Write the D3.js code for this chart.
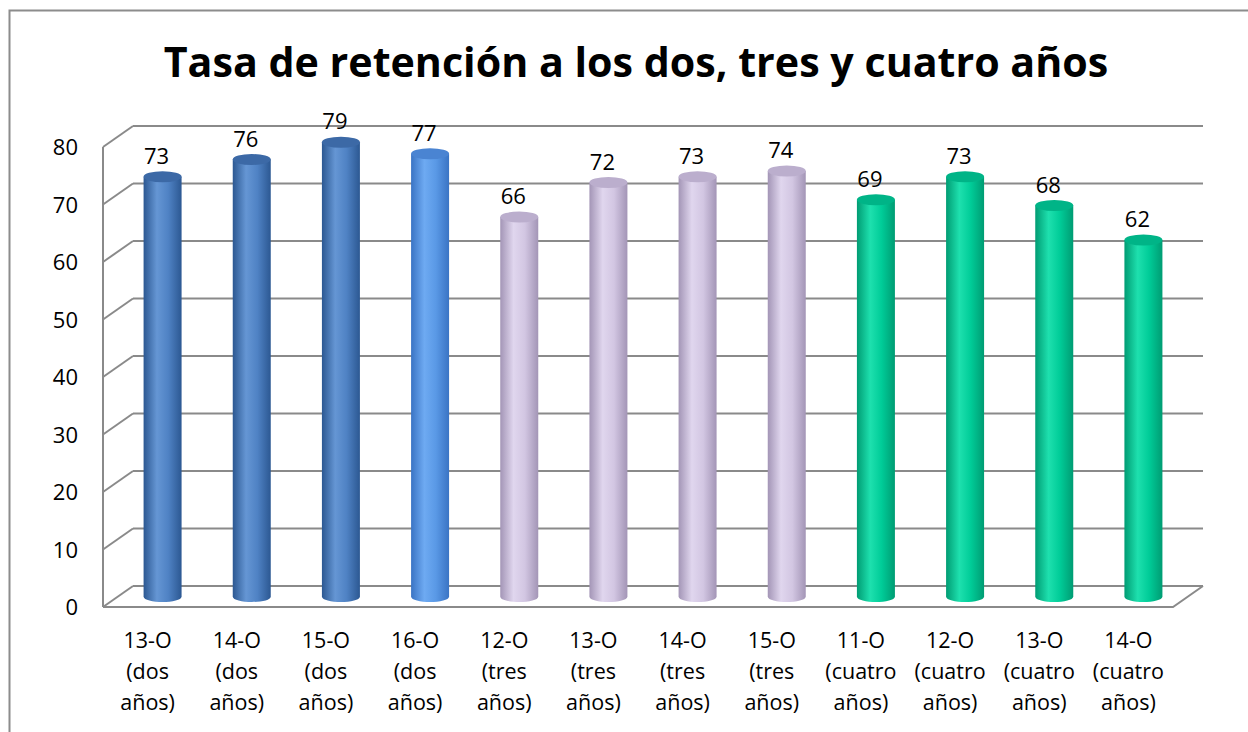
<!DOCTYPE html>
<html>
<head>
<meta charset="utf-8">
<script src="https://cdn.jsdelivr.net/npm/d3@7"></script>
<style>
  body { margin: 0; background: #fff; }
  svg { display: block; }
  text { font-family: "Open Sans", "Noto Sans", sans-serif; fill: #000; }
</style>
</head>
<body>
<svg id="chart" width="1248" height="732"></svg>
<script>
// chart data
var categories = ["13-O (dos años)", "14-O (dos años)", "15-O (dos años)", "16-O (dos años)",
  "12-O (tres años)", "13-O (tres años)", "14-O (tres años)", "15-O (tres años)",
  "11-O (cuatro años)", "12-O (cuatro años)", "13-O (cuatro años)", "14-O (cuatro años)"];
var labelLines = [
  ["13-O", "(dos", "años)"], ["14-O", "(dos", "años)"], ["15-O", "(dos", "años)"], ["16-O", "(dos", "años)"],
  ["12-O", "(tres", "años)"], ["13-O", "(tres", "años)"], ["14-O", "(tres", "años)"], ["15-O", "(tres", "años)"],
  ["11-O", "(cuatro", "años)"], ["12-O", "(cuatro", "años)"], ["13-O", "(cuatro", "años)"], ["14-O", "(cuatro", "años)"]];
var values = [73, 76, 79, 77, 66, 72, 73, 74, 69, 73, 68, 62];
var barStyle = ["blue", "blue", "blue", "lightblue", "lilac", "lilac", "lilac", "lilac", "green", "green", "green", "green"];
var yTicks = [0, 10, 20, 30, 40, 50, 60, 70, 80];
var title = "Tasa de retención a los dos, tres y cuatro años";

var svg = d3.select("#chart");

// 3d depth of the plot box
var dx = 30, dy = -21;
var x = d3.scaleBand().domain(categories).range([103, 1173]).padding(0);
var y = d3.scaleLinear().domain([0, 80]).range([607, 147]);

var palettes = {
  blue:      {edge: "#2c5892", mid: "#4f82c4", hi: "#6596d4", top: "#3c69a6"},
  lightblue: {edge: "#3a74c4", mid: "#5a99e6", hi: "#6eaaf2", top: "#4a84d2"},
  lilac:     {edge: "#a395b6", mid: "#d2c6e2", hi: "#e0d6ee", top: "#bbaecd"},
  green:     {edge: "#009c73", mid: "#00cc98", hi: "#1ee0ae", top: "#00b487"}
};

var defs = svg.append("defs");
Object.keys(palettes).forEach(function(k){
  var p = palettes[k];
  var g = defs.append("linearGradient").attr("id", "grad-" + k)
    .attr("x1", "0").attr("x2", "1").attr("y1", "0").attr("y2", "0");
  g.append("stop").attr("offset", "0%").attr("stop-color", p.edge);
  g.append("stop").attr("offset", "35%").attr("stop-color", p.hi);
  g.append("stop").attr("offset", "65%").attr("stop-color", p.mid);
  g.append("stop").attr("offset", "100%").attr("stop-color", p.edge);
});

// outer border
svg.append("rect")
  .attr("x", 9.5).attr("y", 10.5)
  .attr("width", 1260).attr("height", 760)
  .attr("fill", "none").attr("stroke", "#8c8c8c").attr("stroke-width", 2);

// title
var t = svg.append("text")
  .attr("x", 636).attr("y", 77)
  .attr("text-anchor", "middle")
  .style("font-weight", "bold")
  .style("font-size", "40px")
  .text(title);
var tw = t.node().getComputedTextLength();
t.style("font-size", (40 * 945 / tw) + "px");

// grid: back wall lines and left wall lines
var x0 = x.range()[0], x1 = x.range()[1];
var grid = svg.append("g").attr("stroke", "#8a8a8a").attr("stroke-width", 2).attr("fill", "none");
yTicks.forEach(function(v){
  grid.append("line")
    .attr("x1", x0 + dx).attr("x2", x1 + dx)
    .attr("y1", y(v) + dy).attr("y2", y(v) + dy);
  grid.append("line")
    .attr("x1", x0).attr("x2", x0 + dx)
    .attr("y1", y(v)).attr("y2", y(v) + dy);
});
grid.append("line").attr("x1", x0).attr("x2", x0).attr("y1", y(80)).attr("y2", y(0));
// floor front edge and right edge
grid.append("polyline")
  .attr("points", [[x0, y(0)], [x1, y(0)], [x1 + dx, y(0) + dy]].map(function(p){ return p.join(","); }).join(" "));

// y axis labels
var yAxis = d3.axisLeft(y).tickValues(yTicks).tickSize(0).tickPadding(0);
var ya = svg.append("g").attr("transform", "translate(78,0)").call(yAxis);
ya.select(".domain").remove();
ya.selectAll("text").style("font-size", "22px").style("font-family", "'Open Sans', sans-serif").attr("dy", "0.35em").attr("fill", "#000");

// cylinders
var r = 19, ry = 5.5;
var bars = svg.append("g");
categories.forEach(function(c, i){
  var cx = x(c) + x.bandwidth() / 2 + dx / 2;
  var base = y(0) + dy / 2;
  var top = y(values[i]) + dy / 2;
  var p = palettes[barStyle[i]];
  var path = d3.path();
  path.moveTo(cx - r, top);
  path.lineTo(cx - r, base);
  path.bezierCurveTo(cx - r, base + ry * 1.33, cx + r, base + ry * 1.33, cx + r, base);
  path.lineTo(cx + r, top);
  path.closePath();
  bars.append("path").attr("d", path.toString()).attr("fill", "url(#grad-" + barStyle[i] + ")");
  bars.append("ellipse")
    .attr("cx", cx).attr("cy", top)
    .attr("rx", r).attr("ry", ry)
    .attr("fill", p.top);
  bars.append("text")
    .attr("x", cx - 6).attr("y", top - 13)
    .attr("text-anchor", "middle")
    .style("font-size", "22px")
    .text(values[i]);
});

// category labels
var xl = svg.append("g");
categories.forEach(function(c, i){
  var tx = xl.append("text")
    .attr("x", x(c) + x.bandwidth() / 2)
    .attr("y", 648)
    .attr("text-anchor", "middle")
    .style("font-size", "21.5px");
  labelLines[i].forEach(function(l, j){
    tx.append("tspan").attr("x", x(c) + x.bandwidth() / 2).attr("dy", j === 0 ? 0 : 31).text(l);
  });
});
</script>
</body>
</html>
